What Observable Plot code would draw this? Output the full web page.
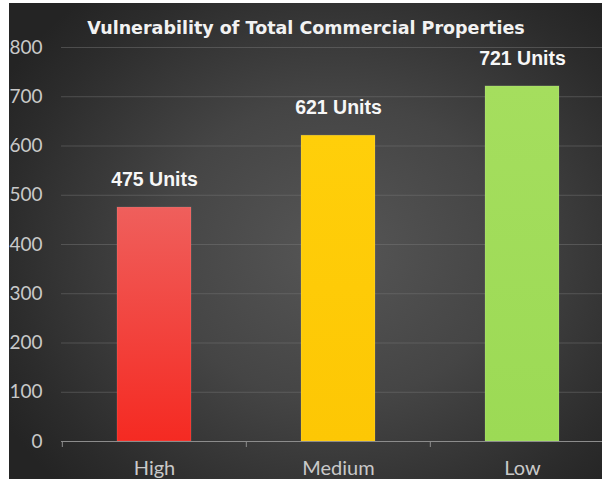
<!DOCTYPE html>
<html>
<head>
<meta charset="utf-8">
<script src="https://cdn.jsdelivr.net/npm/d3@7"></script>
<script src="https://cdn.jsdelivr.net/npm/@observablehq/plot@0.6"></script>
<style>
  html, body { margin: 0; padding: 0; background: #fff; }
  #wrap { position: relative; width: 602px; height: 479px; overflow: hidden; background: #fff; }
  #bg { position: absolute; left: 9px; top: 3px; right: 0; bottom: 0;
        background: radial-gradient(ellipse 65% 70% at 55% 52%, #565656 0%, #454545 45%, #2c2c2c 85%, #242424 100%); }
  #title { position: absolute; left: 0; width: 612px; top: 20px; text-align: center;
           font-family: "DejaVu Sans", sans-serif; font-weight: bold; font-size: 17.5px; color: #f2f2f2;
           white-space: nowrap; line-height: 1; }
  #chart { position: absolute; left: 0; top: 0; }
</style>
</head>
<body>
<div id="wrap">
  <div id="bg"></div>
  <div id="chart"></div>
  <div id="title"></div>
</div>
<script>
// ---- data ----
const titleText = "Vulnerability of Total Commercial Properties";
const categories = ["High", "Medium", "Low"];
const values = [475, 621, 721];
const valueLabels = ["475 Units", "621 Units", "721 Units"];
const yTicks = [0, 100, 200, 300, 400, 500, 600, 700, 800];

// ---- styles ----
const gradientIds = ["gradHigh", "gradMedium", "gradLow"];
const gradientStops = [
  ["#ef5f5c", "#f52a22"],
  ["#ffcf0a", "#fdc704"],
  ["#a5de5e", "#9cda55"]
];

document.getElementById("title").textContent = titleText;

const data = categories.map((c, i) => ({
  category: c,
  value: values[i],
  label: valueLabels[i],
  fill: `url(#${gradientIds[i]})`
}));

const xRange = [61, 614];
const step = (xRange[1] - xRange[0]) / categories.length;

const defs = () => {
  const d = d3.create("svg:defs");
  gradientIds.forEach((id, i) => {
    const g = d.append("linearGradient").attr("id", id)
      .attr("x1", 0).attr("y1", 0).attr("x2", 0).attr("y2", 1);
    g.append("stop").attr("offset", "0%").attr("stop-color", gradientStops[i][0]);
    g.append("stop").attr("offset", "100%").attr("stop-color", gradientStops[i][1]);
  });
  return d.node();
};

const chart = Plot.plot({
  width: 602,
  height: 479,
  marginLeft: 61,
  marginRight: 0,
  marginTop: 47,
  marginBottom: 38,
  style: { background: "transparent", overflow: "visible" },
  x: { domain: categories, range: xRange, paddingInner: 0.6, paddingOuter: 0.3, axis: null, label: null },
  y: { domain: [0, 800], range: [441, 47], axis: null, label: null },
  color: { type: "identity" },
  marks: [
    defs,
    Plot.gridY(yTicks.filter(t => t > 0), { stroke: "#7a7a7a", strokeOpacity: 0.45 }),
    Plot.axisY(yTicks, {
      tickSize: 0, tickPadding: 19, fontSize: 19, fill: "#c9c9c9",
      fontFamily: "Lato, sans-serif", label: null
    }),
    Plot.barY(data, { x: "category", y: "value", fill: "fill", stroke: "#ffffff", strokeOpacity: 0.12, strokeWidth: 1 }),
    Plot.ruleY([0], { stroke: "#8c8c8c", strokeWidth: 1.2 }),
    Plot.ruleX(categories, { x: d => d, y1: 0, y2: 0, dx: -step / 2, insetBottom: -6, stroke: "#8c8c8c" }),
    Plot.text(data, {
      x: "category", y: "value", text: "label", dy: -28,
      fontSize: 19.5, fontWeight: "bold", fill: "#f7f7f7", fontFamily: "Liberation Sans, Arial, sans-serif"
    }),
    Plot.axisX({
      tickSize: 0, tickPadding: 19, fontSize: 20, fill: "#c9c9c9",
      fontFamily: "Lato, sans-serif", label: null
    })
  ]
});
document.getElementById("chart").appendChild(chart);
</script>
</body>
</html>
